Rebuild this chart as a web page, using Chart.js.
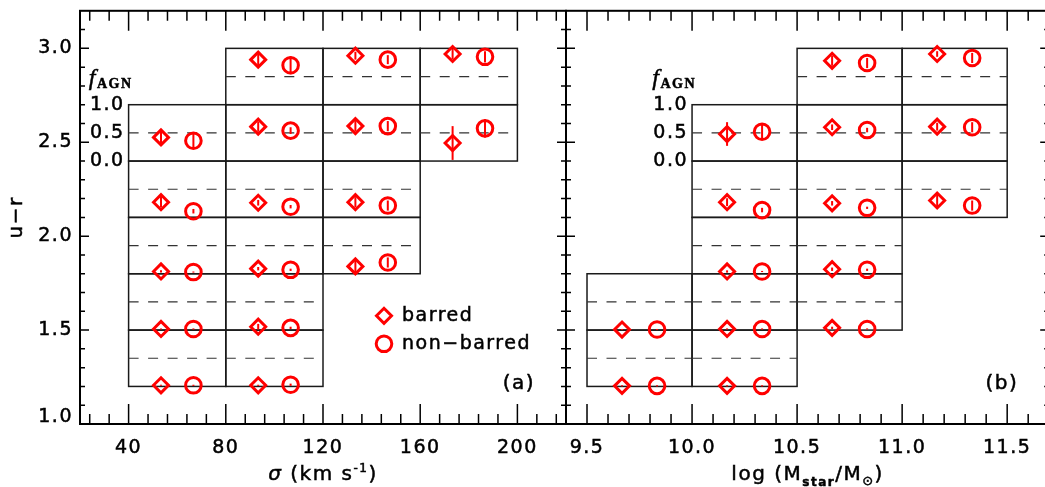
<!DOCTYPE html>
<html>
<head>
<meta charset="utf-8">
<script src="https://cdn.jsdelivr.net/npm/chart.js@4.4.1/dist/chart.umd.min.js"></script>
<style>
  html, body { margin: 0; padding: 0; background: #fff; overflow: hidden; }
  #wrap { position: relative; width: 1045px; height: 487px; overflow: hidden; }
  #wrap canvas { position: absolute; left: 0; top: 0; }
</style>
</head>
<body>
<div id="wrap">
  <canvas id="sigmaChart" width="1045" height="487"></canvas>
  <canvas id="massChart" width="1060" height="487"></canvas>
</div>
<script>
/* =============================================
   AGN fraction in u−r boxes, barred vs non-barred
   (a) binned by σ, (b) binned by stellar mass
   ============================================= */

// ─────────────────────────────────────────────
// 1. DATA
// ─────────────────────────────────────────────
const BIN_H  = 0.3;                         // u−r height of one box
const yTicks = [1.0, 1.5, 2.0, 2.5, 3.0];

// (a) σ columns
const sigmaEdges = [40, 80, 120, 160, 200];
const sigmaTicks = [40, 80, 120, 160, 200];
const sigBoxLo = [                          // lower u−r edge of each box, per column
  [1.2, 1.5, 1.8, 2.1, 2.4],
  [1.2, 1.5, 1.8, 2.1, 2.4, 2.7],
  [1.8, 2.1, 2.4, 2.7],
  [2.4, 2.7]
];
const sigBarF = [
  [0.02, 0.02, 0.04, 0.27, 0.42],
  [0.02, 0.06, 0.09, 0.26, 0.61, 0.80],
  [0.13, 0.27, 0.62, 0.87],
  [0.32, 0.90]
];
const sigBarErr = [
  [0.01, 0.01, 0.02, 0.09, 0.14],
  [0.01, 0.05, 0.03, 0.05, 0.09, 0.14],
  [0.12, 0.09, 0.09, 0.07],
  [0.30, 0.09]
];
const sigNonF = [
  [0.02, 0.02, 0.03, 0.11, 0.36],
  [0.03, 0.04, 0.07, 0.19, 0.54, 0.70],
  [0.20, 0.21, 0.62, 0.80],
  [0.58, 0.85]
];
const sigNonErr = [
  [0.01, 0.01, 0.01, 0.04, 0.14],
  [0.02, 0.02, 0.02, 0.03, 0.06, 0.16],
  [0.09, 0.09, 0.09, 0.08],
  [0.16, 0.10]
];

// (b) stellar mass columns
const massEdges = [9.5, 10.0, 10.5, 11.0, 11.5];
const massTicks = [9.5, 10.0, 10.5, 11.0, 11.5];
const massBoxLo = [
  [1.2, 1.5],
  [1.2, 1.5, 1.8, 2.1, 2.4],
  [1.5, 1.8, 2.1, 2.4, 2.7],
  [2.1, 2.4, 2.7]
];
const massBarF = [
  [0.01, 0.01],
  [0.01, 0.02, 0.04, 0.27, 0.48],
  [0.04, 0.08, 0.25, 0.60, 0.78],
  [0.30, 0.61, 0.90]
];
const massBarErr = [
  [0.01, 0.01],
  [0.01, 0.01, 0.02, 0.07, 0.21],
  [0.02, 0.03, 0.04, 0.05, 0.09],
  [0.10, 0.07, 0.05]
];
const massNonF = [
  [0.01, 0.01],
  [0.01, 0.02, 0.04, 0.13, 0.52],
  [0.02, 0.07, 0.17, 0.55, 0.74],
  [0.21, 0.60, 0.83]
];
const massNonErr = [
  [0.01, 0.01],
  [0.01, 0.01, 0.01, 0.04, 0.14],
  [0.01, 0.02, 0.02, 0.04, 0.09],
  [0.09, 0.09, 0.09]
];

// f_AGN key drawn next to the 2.4–2.7 box
const keyFrac   = [0, 0.5, 1];
const keyLabels = ['0.0', '0.5', '1.0'];

// ─────────────────────────────────────────────
// 2. HELPERS
// ─────────────────────────────────────────────
const FONT = '"DejaVu Sans", sans-serif';
const RED  = '#ff0000';
const INK  = 0.5;                           // extra stroke on text, for a heavier look

// barred at 1/3 of the column, non-barred at 2/3
function markers(edges, boxLo, frac, err, pos) {
  const pts = [];
  boxLo.forEach((col, i) => {
    const xc = edges[i] + (edges[i + 1] - edges[i]) * pos;
    col.forEach((lo, j) => {
      pts.push({ x: xc, y: lo + BIN_H * frac[i][j], e: BIN_H * err[i][j] });
    });
  });
  return pts;
}

// minor tick values between min and max, skipping majors
function minorValues(min, max, step, majors) {
  const out = [];
  for (let k = Math.ceil(min / step - 1e-6); k * step <= max + 1e-9; k++) {
    const v = +(k * step).toFixed(6);
    if (v <= min + 1e-9 || v >= max - 1e-9) continue;
    if (majors.some(m => Math.abs(m - v) < 1e-6)) continue;
    out.push(v);
  }
  return out;
}

function inkText(ctx, s, x, y) {
  ctx.fillText(s, x, y);
  ctx.strokeText(s, x, y);
}

// text runs with their own font and baseline shift
function drawRich(ctx, parts, x, y, align) {
  let w = 0;
  parts.forEach(p => { ctx.font = p[1]; w += ctx.measureText(p[0]).width; });
  let cx = align === 'center' ? x - w / 2 : align === 'right' ? x - w : x;
  ctx.textAlign = 'left';
  ctx.textBaseline = 'alphabetic';
  parts.forEach(p => {
    ctx.font = p[1];
    inkText(ctx, p[0], cx, y + (p[2] || 0));
    cx += ctx.measureText(p[0]).width;
  });
}

function diamond(ctx, x, y, r) {
  ctx.beginPath();
  ctx.moveTo(x - r, y); ctx.lineTo(x, y - r); ctx.lineTo(x + r, y); ctx.lineTo(x, y + r);
  ctx.closePath();
  ctx.stroke();
}

// ─────────────────────────────────────────────
// 3. PLUGINS
// ─────────────────────────────────────────────
const boxesPlugin = {
  id: 'boxes',
  beforeDatasetsDraw(chart, args, o) {
    const { ctx, scales: { x, y } } = chart;
    ctx.save();
    o.lo.forEach((col, i) => {
      const x0 = x.getPixelForValue(o.edges[i]);
      const x1 = x.getPixelForValue(o.edges[i + 1]);
      col.forEach(b => {
        const yb = y.getPixelForValue(b);
        const yt = y.getPixelForValue(b + BIN_H);
        const ym = y.getPixelForValue(b + BIN_H / 2);
        ctx.setLineDash([]);
        ctx.lineWidth = 1.5;
        ctx.strokeStyle = '#1a1a1a';
        ctx.strokeRect(x0, yt, x1 - x0, yb - yt);
        ctx.setLineDash([10, 9.5]);
        ctx.lineWidth = 1.2;
        ctx.strokeStyle = '#333';
        ctx.beginPath();
        ctx.moveTo(x0, ym);
        ctx.lineTo(x1, ym);
        ctx.stroke();
      });
    });
    ctx.restore();
  }
};

const errorBarsPlugin = {
  id: 'errorBars',
  afterDatasetsDraw(chart) {
    const { ctx, scales: { y } } = chart;
    ctx.save();
    ctx.strokeStyle = RED;
    ctx.lineWidth = 2;
    chart.data.datasets.forEach((ds, i) => {
      chart.getDatasetMeta(i).data.forEach((pt, j) => {
        const d = ds.data[j];
        ctx.beginPath();
        ctx.moveTo(pt.x, y.getPixelForValue(d.y - d.e));
        ctx.lineTo(pt.x, y.getPixelForValue(d.y + d.e));
        ctx.stroke();
      });
    });
    ctx.restore();
  }
};

// inward ticks on all four sides plus the frame
const frameTicksPlugin = {
  id: 'frameTicks',
  afterDraw(chart, args, o) {
    const { ctx, chartArea: a, scales: { x, y } } = chart;
    const xMin = minorValues(x.min, x.max, o.xStep, o.xMajor);
    const yMin = minorValues(y.min, y.max, 0.1, yTicks);
    ctx.save();
    ctx.strokeStyle = '#000';
    ctx.lineWidth = 1.5;
    ctx.beginPath();
    const vert = (vals, len) => vals.forEach(v => {
      const p = x.getPixelForValue(v);
      ctx.moveTo(p, a.bottom); ctx.lineTo(p, a.bottom - len);
      ctx.moveTo(p, a.top);    ctx.lineTo(p, a.top + len);
    });
    const horz = (vals, len) => vals.forEach(v => {
      const p = y.getPixelForValue(v);
      ctx.moveTo(a.left, p);  ctx.lineTo(a.left + len, p);
      ctx.moveTo(a.right, p); ctx.lineTo(a.right - len, p);
    });
    vert(o.xMajor, 20); vert(xMin, 10);
    horz(yTicks, 9);    horz(yMin, 5);
    ctx.stroke();
    ctx.lineWidth = 2;
    ctx.strokeRect(a.left, a.top, a.right - a.left, a.bottom - a.top);
    ctx.restore();
  }
};

const labelsPlugin = {
  id: 'labels',
  beforeDraw(chart) { chart.ctx.letterSpacing = '1.5px'; },
  afterDraw(chart, args, o) {
    const { ctx, chartArea: a, scales: { x, y } } = chart;
    ctx.save();
    ctx.fillStyle = '#000';
    ctx.strokeStyle = '#000';
    ctx.lineWidth = INK;

    drawRich(ctx, o.xTitle, (a.left + a.right) / 2, 480, 'center');

    if (o.yTitle) {
      ctx.save();
      ctx.translate(21.5, (a.top + a.bottom) / 2);
      ctx.rotate(-Math.PI / 2);
      drawRich(ctx, [[o.yTitle, '20px ' + FONT]], 0, 0, 'center');
      ctx.restore();
    }

    // f_AGN key
    const kx = x.getPixelForValue(o.keyAt);
    drawRich(ctx, [['f', 'italic 24px "Liberation Serif"'], ['AGN', 'bold 14px "Liberation Serif"', 3]],
      kx + 4, y.getPixelForValue(2.4 + BIN_H) - 20, 'right');
    ctx.font = '19px ' + FONT;
    ctx.textAlign = 'right';
    ctx.textBaseline = 'middle';
    keyFrac.forEach((f, i) => inkText(ctx, keyLabels[i], kx - 4, y.getPixelForValue(2.4 + BIN_H * f)));

    // panel letter
    ctx.font = '20px ' + FONT;
    inkText(ctx, o.letter, a.right - 31, a.bottom - 40);

    // legend
    if (o.legend) {
      const lx = a.left + 304, ly = a.top + 305;
      ctx.save();
      ctx.strokeStyle = RED;
      ctx.lineWidth = 3;
      diamond(ctx, lx, ly, 7.5);
      ctx.beginPath();
      ctx.arc(lx, ly + 28, 7.8, 0, Math.PI * 2);
      ctx.stroke();
      ctx.restore();
      ctx.font = '19px ' + FONT;
      ctx.textAlign = 'left';
      inkText(ctx, 'barred', lx + 18, ly);
      inkText(ctx, 'non\u2212barred', lx + 18, ly + 28);
    }
    ctx.restore();
  }
};

// ─────────────────────────────────────────────
// 4. CHARTS
// ─────────────────────────────────────────────
const tickFont = ctx => ({
  family: FONT, size: 19,
  lineHeight: ctx.tick && ctx.tick.value === 1 ? 0.75 : 1.2
});

function makePanel(canvasId, p) {
  return new Chart(document.getElementById(canvasId), {
    type: 'scatter',
    data: {
      datasets: [
        {
          label: 'barred',
          data: markers(p.edges, p.lo, p.barF, p.barErr, 1 / 3),
          pointStyle: 'rectRot', pointRadius: 7.5,
          pointBorderWidth: 3, pointBorderColor: RED,
          pointBackgroundColor: 'rgba(0,0,0,0)', clip: false
        },
        {
          label: 'non-barred',
          data: markers(p.edges, p.lo, p.nonF, p.nonErr, 2 / 3),
          pointStyle: 'circle', pointRadius: 7.8,
          pointBorderWidth: 3, pointBorderColor: RED,
          pointBackgroundColor: 'rgba(0,0,0,0)', clip: false
        }
      ]
    },
    options: {
      responsive: false,
      animation: false,
      events: [],
      layout: { padding: p.padding },
      scales: {
        x: {
          type: 'linear', min: p.xMin, max: p.xMax,
          afterBuildTicks: s => { s.ticks = p.ticks.map(v => ({ value: v })); },
          afterFit: s => { s.height = 63; s.paddingLeft = 0; s.paddingRight = 0; },
          grid: { display: false, drawTicks: false },
          border: { display: false },
          ticks: {
            padding: 13, maxRotation: 0, autoSkip: false, color: '#000',
            textStrokeColor: '#000', textStrokeWidth: INK,
            font: { family: FONT, size: 19 },
            callback: p.tickFmt
          }
        },
        y: {
          type: 'linear', min: 1.0, max: 3.2,
          display: p.showY,
          afterBuildTicks: s => { s.ticks = yTicks.map(v => ({ value: v })); },
          afterFit: s => { s.width = p.showY ? 80 : 0; s.paddingTop = 0; s.paddingBottom = 0; },
          grid: { display: false, drawTicks: false },
          border: { display: false },
          ticks: {
            padding: 7, color: '#000', font: tickFont,
            textStrokeColor: '#000', textStrokeWidth: INK,
            callback: v => (v === 1 ? [v.toFixed(1), ''] : v.toFixed(1))
          }
        }
      },
      plugins: {
        legend: { display: false },
        tooltip: { enabled: false },
        boxes: { edges: p.edges, lo: p.lo },
        frameTicks: { xMajor: p.ticks, xStep: p.minorStep },
        labels: p.labels
      }
    },
    plugins: [boxesPlugin, errorBarsPlugin, frameTicksPlugin, labelsPlugin]
  });
}

const SUB = 'bold 12px ' + FONT;
const BIG = '20px ' + FONT;

makePanel('sigmaChart', {
  edges: sigmaEdges, lo: sigBoxLo,
  barF: sigBarF, barErr: sigBarErr, nonF: sigNonF, nonErr: sigNonErr,
  xMin: 20, xMax: 220, ticks: sigmaTicks, minorStep: 8,
  tickFmt: v => String(v),
  showY: true,
  padding: { left: 0, right: 479, top: 10, bottom: 0 },
  labels: {
    letter: '(a)', legend: true, yTitle: 'u\u2212r', keyAt: sigmaEdges[0],
    xTitle: [['\u03c3', 'italic 20px ' + FONT], [' (km s', BIG], ['-1', '12px ' + FONT, -8], [')', BIG]]
  }
});

makePanel('massChart', {
  edges: massEdges, lo: massBoxLo,
  barF: massBarF, barErr: massBarErr, nonF: massNonF, nonErr: massNonErr,
  xMin: 9.4, xMax: 11.7, ticks: massTicks, minorStep: 0.1,
  tickFmt: v => v.toFixed(1),
  showY: false,
  padding: { left: 566, right: 7, top: 10, bottom: 0 },
  labels: {
    letter: '(b)', legend: false, yTitle: null, keyAt: massEdges[1],
    xTitle: [['log (M', BIG], ['star', SUB, 6], ['/M', BIG], ['\u2299', '13px ' + FONT, 5], [')', BIG]]
  }
});
</script>
</body>
</html>
